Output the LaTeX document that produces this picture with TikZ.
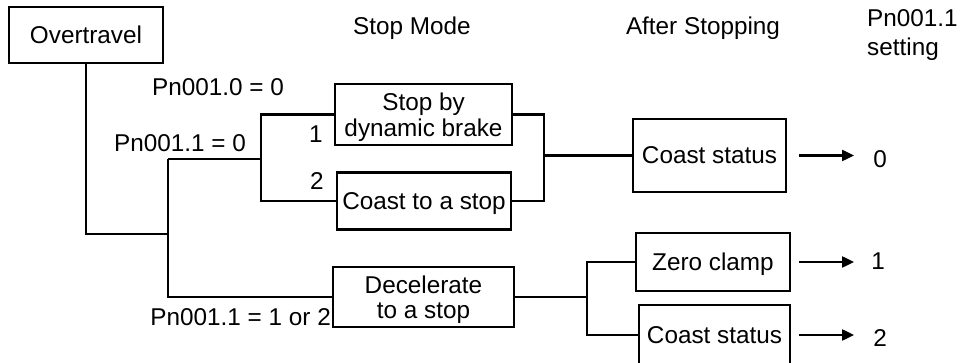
\documentclass[tikz,border=0pt]{standalone}
\usepackage{fontspec}
\setmainfont{Liberation Sans}
\usetikzlibrary{arrows.meta}
\newcommand{\fsz}{\fontsize{24.3}{25.5}\selectfont}
\tikzset{
  box/.style={draw, line width=2.4pt, inner sep=0pt, align=center, font=\fsz, text depth=0pt},
  lbl/.style={inner sep=0pt, font=\fsz, anchor=base},
  conn/.style={line width=2.4pt},
  arr/.style={line width=2.4pt, -{Triangle[length=12pt,width=11pt]}},
}
\begin{document}
\begin{tikzpicture}[x=1pt,y=-1pt]
\clip (0,0) rectangle (961,363);
\fill[white] (0,0) rectangle (961,363);
% boxes
\node[box, minimum width=154pt, minimum height=56pt] (over) at (86,35) {Overtravel};
\node[box, minimum width=177pt, minimum height=61pt] (sdb) at (423.5,114.5) {Stop by\\dynamic brake};
\node[box, minimum width=174pt, minimum height=57pt] (cts) at (424,201) {Coast to a stop};
\node[box, minimum width=153pt, minimum height=73pt] (cs1) at (709.5,155.5) {Coast status};
\node[box, minimum width=181pt, minimum height=60pt] (dec) at (423.5,297) {Decelerate\\to a stop};
\node[box, minimum width=154pt, minimum height=58pt] (zc) at (713,262) {Zero clamp};
\node[box, minimum width=151pt, minimum height=60pt] (cs2) at (714.5,335) {Coast status};
% labels
\node[lbl] (h1) at (412,35) {Stop Mode};
\node[lbl] (h2) at (703,35) {After Stopping};
\node[lbl, anchor=base west] (h3) at (867,27) {Pn001.1};
\node[lbl, anchor=base west] (h4) at (867,56) {setting};
\node[lbl, anchor=base west] (p0) at (152,96) {Pn001.0 = 0};
\node[lbl, anchor=base west] (p1) at (114,152) {Pn001.1 = 0};
\node[lbl, anchor=base east] (p2) at (331,326) {Pn001.1 = 1 or 2};
\node[lbl] (n1) at (316,143) {1};
\node[lbl] (n2) at (317,190) {2};
\node[lbl] (v0) at (880,168) {0};
\node[lbl] (v1) at (878,270) {1};
\node[lbl] (v2) at (880,346) {2};
% junctions
\coordinate (j1) at (168,234);
\coordinate (ja) at (168,159);
\coordinate (jb) at (168,297);
\coordinate (jc) at (261,159);
\coordinate (je) at (544,155.5);
\coordinate (jf) at (587,297);
% connectors
\draw[conn] (over.south) |- (j1);
\draw[conn] (ja) -- (jb) -- (dec.west);
\draw[conn] (ja) -- (jc);
\draw[conn] (sdb.west) -| (jc) |- (cts.west);
\draw[conn] (sdb.east) -| (je) |- (cts.east);
\draw[conn] (je) -- (cs1.west);
\draw[conn] (dec.east) -- (jf);
\draw[conn] (zc.west) -| (jf) |- (cs2.west);
% arrows
\draw[arr] ([xshift=12pt]cs1.east) -- (854,155.5);
\draw[arr] ([xshift=8pt]zc.east) -- (854,262);
\draw[arr] ([xshift=8pt]cs2.east) -- (854,335);
\end{tikzpicture}
\end{document}
